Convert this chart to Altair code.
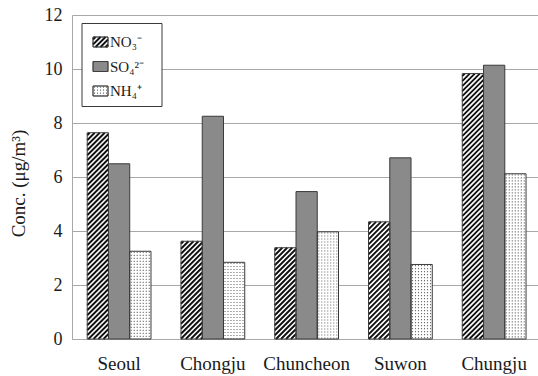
import altair as alt
import pandas as pd

# Mean ion concentrations (µg/m³) per site
cities = ["Seoul", "Chongju", "Chuncheon", "Suwon", "Chungju"]
ions = ["NO3", "SO4", "NH4"]
ion_labels = ["NO₃⁻", "SO₄²⁻", "NH₄⁺"]
no3 = [7.64, 3.62, 3.38, 4.34, 9.83]
so4 = [6.49, 8.25, 5.46, 6.71, 10.14]
nh4 = [3.25, 2.84, 3.97, 2.76, 6.12]
y_ticks = [0, 2, 4, 6, 8, 10, 12]

series = dict(zip(ions, [no3, so4, nh4]))
df = pd.DataFrame(
    [{"city": c, "ion": ion, "value": series[ion][i]}
     for ion in ions for i, c in enumerate(cities)]
)

# geometry of the plot area
PLOT_W, PLOT_H = 466, 324
Y_MAX = 12
PAD_IN, PAD_OUT, ALIGN = 0.32, 0.145, 0.56
STEP = PLOT_W / (len(cities) - PAD_IN + 2 * PAD_OUT)
BAR_W = STEP * (1 - PAD_IN) / len(ions)
PX_PER_UNIT = PLOT_H / Y_MAX

FONT = "Liberation Serif"
INK = "#1a1a1a"
GRID = "#a8a8a8"
SOLID = "#8a8a8a"
EDGE = "#3a3a3a"


def _norm(w, h):
    s = h / 2.0
    return lambda x, y: f"{(x - w / 2) / s:.4f},{(y - h / 2) / s:.4f}"


def hatch_path(w, h, period=5.0):
    """'///' lines filling a w x h box, as a symbol path scaled to the box height."""
    p = _norm(w, h)
    parts = []
    k = period / 2
    while k < w + h:
        x0, x1 = max(0.0, k - h), min(w, k)
        parts.append(f"M{p(x0, k - x0)}L{p(x1, k - x1)}")
        k += period
    return "".join(parts)


def dot_path(w, h, pitch=3.0):
    """Vertical lines; drawn dashed they become a grid of dots."""
    p = _norm(w, h)
    parts = []
    x = pitch / 2
    while x < w:
        parts.append(f"M{p(x, 0.6)}L{p(x, h)}")
        x += pitch
    return "".join(parts)


x_scale = alt.Scale(domain=cities, paddingInner=PAD_IN, paddingOuter=PAD_OUT, align=ALIGN)
off_scale = alt.Scale(domain=ions, paddingInner=0, paddingOuter=0)
y_scale = alt.Scale(domain=[0, Y_MAX], nice=False)

x_axis = alt.Axis(
    title=None, labelFont=FONT, labelFontSize=19, labelColor=INK, labelPadding=15,
    labelAngle=0, ticks=False, domainColor=GRID, domainWidth=1, grid=False,
)
y_axis = alt.Axis(
    values=y_ticks, labelFont=FONT, labelFontSize=18, labelColor=INK,
    labelPadding=10, ticks=False, domainColor=GRID, domainWidth=1,
    grid=True, gridColor=GRID, gridWidth=1,
    title="Conc. (μg/m³)", titleFont=FONT, titleFontSize=19, titleFontWeight="normal",
    titleColor=INK, titleAngle=270, titleX=-54, titleY=168,
    titleAlign="center", titleBaseline="middle",
)


def enc(y_field="value"):
    return dict(
        x=alt.X("city:N", scale=x_scale, axis=x_axis),
        xOffset=alt.XOffset("ion:N", scale=off_scale),
        y=alt.Y(f"{y_field}:Q", scale=y_scale, axis=y_axis),
    )


# solid fill of every bar
base = alt.Chart(df).mark_bar().encode(
    fill=alt.Fill("ion:N", scale=alt.Scale(domain=ions, range=["#ffffff", SOLID, "#ffffff"]),
                  legend=None),
    **enc(),
)
layers = [base]

# hatching of the nitrate bars, dot grid of the ammonium bars
for c, v3, v4 in zip(cities, no3, nh4):
    h3, h4 = v3 * PX_PER_UNIT, v4 * PX_PER_UNIT
    layers.append(
        alt.Chart(df).transform_filter((alt.datum.city == c) & (alt.datum.ion == "NO3"))
        .transform_calculate(mid="datum.value / 2")
        .mark_point(shape=hatch_path(BAR_W, h3), size=h3 * h3, filled=False,
                    stroke="#111111", strokeWidth=1.9, opacity=1)
        .encode(**enc("mid"))
    )
    layers.append(
        alt.Chart(df).transform_filter((alt.datum.city == c) & (alt.datum.ion == "NH4"))
        .transform_calculate(mid="datum.value / 2")
        .mark_point(shape=dot_path(BAR_W, h4), size=h4 * h4, filled=False,
                    stroke="#6f6f6f", strokeWidth=1.1, strokeDash=[1.1, 1.9], opacity=1)
        .encode(**enc("mid"))
    )

# outlines
layers.append(alt.Chart(df).mark_bar(fill="transparent", stroke=EDGE, strokeWidth=1).encode(**enc()))

# legend box
one = pd.DataFrame({"k": [0]})
LX0, LX1, LY0, LY1 = 10, 90, 8.5, 91.5
SW_X0, SW_X1, SW_H = 21, 36, 10
SW_W = SW_X1 - SW_X0
ROWS = [27, 51.5, 76]

layers.append(alt.Chart(one).mark_rect(fill="#ffffff", stroke=EDGE, strokeWidth=1).encode(
    x=alt.value(LX0), x2=alt.value(LX1), y=alt.value(LY0), y2=alt.value(LY1)))


def swatch_rect(row, fill):
    return alt.Chart(one).mark_rect(fill=fill, stroke=EDGE, strokeWidth=0.8).encode(
        x=alt.value(SW_X0), x2=alt.value(SW_X1),
        y=alt.value(row - SW_H / 2), y2=alt.value(row + SW_H / 2))


def swatch_texture(row, path, **style):
    return alt.Chart(one).mark_point(shape=path, size=SW_H * SW_H, filled=False,
                                     opacity=1, **style).encode(
        x=alt.value((SW_X0 + SW_X1) / 2), y=alt.value(row))


layers += [
    swatch_rect(ROWS[0], "#ffffff"),
    swatch_texture(ROWS[0], hatch_path(SW_W, SW_H), stroke="#111111", strokeWidth=1.9),
    swatch_rect(ROWS[1], SOLID),
    swatch_rect(ROWS[2], "#ffffff"),
    swatch_texture(ROWS[2], dot_path(SW_W, SW_H), stroke="#6f6f6f", strokeWidth=1.1,
                   strokeDash=[1.1, 1.9]),
]
# redraw swatch borders above the textures
for row in ROWS:
    layers.append(swatch_rect(row, "transparent"))

for row, lab in zip(ROWS, ion_labels):
    layers.append(alt.Chart(one).mark_text(
        text=lab, align="left", baseline="middle", font=FONT, fontSize=15, color=INK
    ).encode(x=alt.value(SW_X1 + 2), y=alt.value(row)))

chart = alt.layer(*layers).properties(
    width=PLOT_W, height=PLOT_H,
    autosize=alt.AutoSizeParams(type="none"),
    padding={"left": 72, "right": 0, "top": 15, "bottom": 37},
    background="#ffffff",
).configure_view(strokeWidth=0)

chart.save("out.html", embed_options={"renderer": "svg", "actions": False})
